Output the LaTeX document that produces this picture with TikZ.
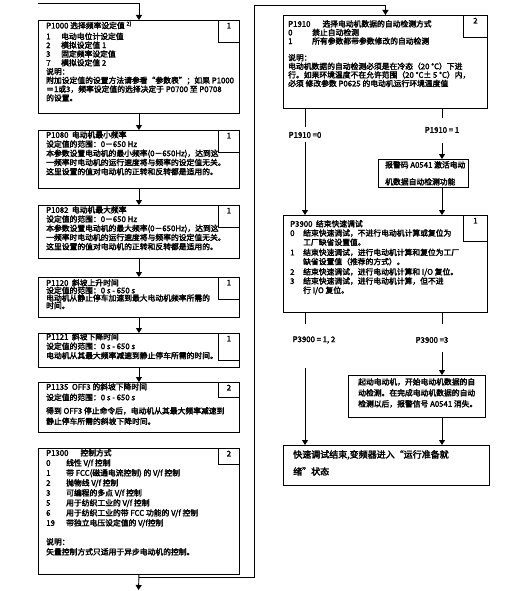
\documentclass[tikz,border=0pt]{standalone}
\usepackage{fontspec}
\setmainfont{Noto Sans CJK SC}[AutoFakeBold=2.5]
\usetikzlibrary{arrows.meta,positioning}
\tikzset{
  frame/.style={draw,line width=0.9pt,anchor=north west,inner sep=0pt},
  numbox/.style={draw,line width=0.9pt,anchor=north east,minimum width=21pt,inner xsep=0pt,inner ysep=1pt,
    text height=7pt,text depth=#1,font=\bfseries\fontsize{7.8}{9}\selectfont},
  numbox/.default=13pt,
  txt/.style={anchor=north west,align=left,inner sep=0pt,font=\bfseries\fontsize{7.8}{#1}\selectfont},
  txt/.default=9.2,
  cond/.style={inner sep=1pt,font=\bfseries\fontsize{7.8}{9}\selectfont},
  flow/.style={-{Triangle[width=6pt,length=5pt]},line width=0.9pt},
  wire/.style={line width=0.9pt}
}
\newcommand{\itm}[3][15pt]{\makebox[#1][l]{#2}#3}
\begin{document}
\begin{tikzpicture}[x=1pt,y=-1pt]
\useasboundingbox (0,0) rectangle (513,591);
% left column
\node[frame,minimum width=201pt,minimum height=93pt] (b1) at (38,20) {};
\node[frame,minimum width=201pt,minimum height=58pt] (b2) at (38,130) {};
\node[frame,minimum width=201pt,minimum height=53pt] (b3) at (38,205) {};
\node[frame,minimum width=201pt,minimum height=40pt] (b4) at (38,277) {};
\node[frame,minimum width=201pt,minimum height=34pt] (b5) at (38,333) {};
\node[frame,minimum width=201pt,minimum height=50pt] (b6) at (38,382) {};
\node[frame,minimum width=201pt,minimum height=126pt] (b7) at (38,448) {};
\node[numbox] (n1) at (b1.north east) {1};
\node[numbox] (n2) at (b2.north east) {1};
\node[numbox] (n3) at (b3.north east) {1};
\node[numbox] (n4) at (b4.north east) {1};
\node[numbox=18pt] (n5) at (b5.north east) {1};
\node[numbox=6pt] (n6) at (b6.north east) {2};
\node[numbox=7pt] (n7) at (b7.north east) {2};
\node[txt=8.8] (t1) at (46,21) {P1000\ 选择频率设定值 \textsuperscript{2)}\\[2pt]
  \itm{1}{电动电位计设定值}\\ \itm{2}{模拟设定值 1}\\ \itm{3}{固定频率设定值}\\ \itm{7}{模拟设定值 2}\\
  说明：\\ 附加设定值的设置方法请参看“参数表”；如果 P1000\\
  ＝1或3，频率设定值的选择决定于 P0700 至 P0708\\ 的设置。};
\node[txt] (t2) at (46,131) {P1080\ \ 电动机最小频率\\ 设定值的范围：0－650 Hz\\
  本参数设置电动机的最小频率(0－650Hz)，达到这\\ 一频率时电动机的运行速度将与频率的设定值无关。\\
  这里设置的值对电动机的正转和反转都是适用的。};
\node[txt] (t3) at (46,206) {P1082\ \ 电动机最大频率\\ 设定值的范围：0－650 Hz\\
  本参数设置电动机的最大频率(0－650Hz)，达到这\\ 一频率时电动机的运行速度将与频率的设定值无关。\\
  这里设置的值对电动机的正转和反转都是适用的。};
\node[txt=7.6] (t4) at (46,279) {P1120\ \ 斜坡上升时间\\ 设定值的范围：0 s - 650 s\\
  电动机从静止停车加速到最大电动机频率所需的\\ 时间。};
\node[txt=9.4] (t5) at (46,333) {P1121\ \ 斜坡下降时间\\ 设定值的范围：0 s - 650 s\\
  电动机从其最大频率减速到静止停车所需的时间。};
\node[txt=10.5] (t6) at (46,383) {P1135\ \ OFF3 的斜坡下降时间\\ 设定值的范围：0 s - 650 s\\[3pt]
  得到 OFF3 停止命令后，电动机从其最大频率减速到\\ 静止停车所需的斜坡下降时间。};
\node[txt=10] (t7) at (46,449) {P1300\hspace{12pt}控制方式\\
  \itm[20pt]{0}{线性 V/f 控制}\\ \itm[20pt]{1}{带 FCC(磁通电流控制) 的 V/f 控制}\\
  \itm[20pt]{2}{抛物线 V/f 控制}\\ \itm[20pt]{3}{可编程的多点 V/f 控制}\\
  \itm[20pt]{5}{用于纺织工业的 V/f 控制}\\ \itm[20pt]{6}{用于纺织工业的带 FCC 功能的 V/f 控制}\\
  \itm[20pt]{19}{带独立电压设定值的 V/f控制}\\[9pt]
  说明：\\ 矢量控制方式只适用于异步电动机的控制。};
% right column
\node[frame,minimum width=204pt,minimum height=93pt] (r1) at (283,15) {};
\node[frame,minimum width=90pt,minimum height=28pt] (r2) at (378,159) {};
\node[frame,minimum width=204pt,minimum height=97pt] (r3) at (283,215) {};
\node[frame,minimum width=137pt,minimum height=42pt] (r4) at (348,375) {};
\node[frame,minimum width=206pt,minimum height=40pt] (r5) at (283,445) {};
\node[numbox,minimum width=24pt] (m1) at (r1.north east) {2};
\node[numbox=17pt,minimum width=24pt] (m3) at (r3.north east) {1};
\node[txt=8.6] (u1) at (288,20) {P1910\hspace{12pt}选择电动机数据的自动检测方式\\
  \itm[24pt]{0}{禁止自动检测}\\ \itm[24pt]{1}{所有参数都带参数修改的自动检测}\\[8pt]
  说明：\\ 电动机数据的自动检测必须是在冷态（20 °C）下进\\
  行。如果环境温度不在允许范围（20 °C± 5 °C）内，\\ 必须 修改参数 P0625 的电动机运行环境温度值};
\node[txt=17] (u2) at (385,161) {报警码 A0541 激活电动\\ 机数据自动检测功能};
\node[txt=9.2] (u3) at (290,220) {P3900\ \ 结束快速调试\\
  \itm[13pt]{0}{结束快速调试，不进行电动机计算或复位为}\\ \hspace*{13pt}工厂缺省设置值。\\[1pt]
  \itm[13pt]{1}{结束快速调试，进行电动机计算和复位为工厂}\\ \hspace*{13pt}缺省设置值（推荐的方式）。\\[1pt]
  \itm[13pt]{2}{结束快速调试，进行电动机计算和 I/O 复位。}\\
  \itm[13pt]{3}{结束快速调试，进行电动机计算，但不进}\\ \hspace*{13pt}行 I/O 复位。};
\node[txt=11] (u4) at (358,378) {起动电动机，开始电动机数据的自\\ 动检测。在完成电动机数据的自动\\
  检测以后，报警信号 A0541 消失。};
\node[txt=17,font=\bfseries\fontsize{9}{17}\selectfont] (u5) at (293,450) {快速调试结束,变频器进入“运行准备就\\ 绪”状态};
% branch labels
\node[cond] (c1) at (305,135) {P1910 =0};
\node[cond] (c2) at (442,130) {P1910 = 1};
\node[cond] (c3) at (314,340) {P3900 = 1, 2};
\node[cond] (c4) at (432,340) {P3900 =3};
\coordinate (l1) at (305,127); \coordinate (l2) at (305,142);
\coordinate (k1) at (442,118); \coordinate (k2) at (442,143);
\coordinate (l3) at (305,324); \coordinate (l4) at (305,368);
\coordinate (k3) at (442,324); \coordinate (k4) at (442,352);
\coordinate (start) at (38,3);
\coordinate (loop) at (254,577);
\coordinate (ret) at (254,5);
\coordinate (out) at (138.5,590);
% connectors
\draw[flow] (start) -| (b1.north);
\draw[flow] (b1.south) -- (b2.north);
\draw[flow] (b2.south) -- (b3.north);
\draw[flow] (b3.south) -- (b4.north);
\draw[flow] (b4.south) -- (b5.north);
\draw[flow] (b5.south) -- (b6.north);
\draw[flow] (b7.south) -- (out);
\draw[flow] (b7.south |- loop) -| (ret) -| (r1.north);
\draw[wire] (r1.south -| l1) -- (l1);
\draw[flow] (l2) -- (r3.north -| l2);
\draw[wire] (r1.south -| k1) -- (k1);
\draw[flow] (k2) -- (r2.north -| k2);
\draw[flow] (r2.south -| k2) -- (r3.north -| k2);
\draw[wire] (r3.south -| l3) -- (l3);
\draw[flow] (l4) -- (r5.north -| l4);
\draw[wire] (r3.south -| k3) -- (k3);
\draw[flow] (k4) -- (r4.north -| k4);
\draw[flow] (r4.south -| k4) -- (r5.north -| k4);
\end{tikzpicture}
\end{document}
